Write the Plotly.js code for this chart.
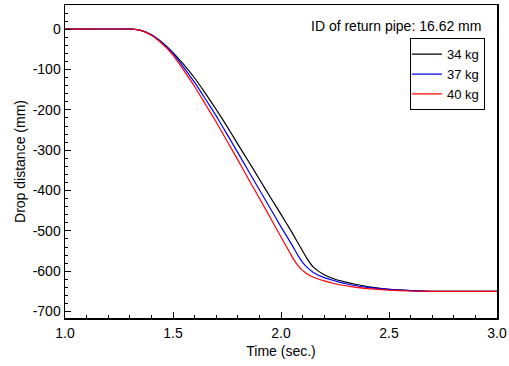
<!DOCTYPE html>
<html>
<head>
<meta charset="utf-8">
<script src="https://cdn.plot.ly/plotly-3.0.1.min.js"></script>
<style>html,body{margin:0;padding:0;background:#fff;}#chart{width:509px;height:366px;}</style>
</head>
<body>
<div id="chart"></div>
<script>
const seriesNames = ["34 kg", "37 kg", "40 kg"];
const seriesColors = ["#000000", "#0000ff", "#ff0000"];

const t34 = [1.00, 1.31, 1.35, 1.40, 1.45, 1.50, 1.55, 1.60, 1.65, 1.70, 1.75, 1.80, 1.85, 1.90, 1.95, 2.00, 2.05, 2.10, 2.12, 2.15, 2.20, 2.25, 2.30, 2.35, 2.40, 2.45, 2.50, 2.60, 2.70, 3.00];
const d34 = [0, 0, -3, -14, -33, -58, -88, -121, -159, -199, -241, -285, -328, -372, -416, -459, -503, -550, -568, -590, -609, -620, -627, -633, -638, -642, -645, -648, -650, -650];

const t37 = [1.00, 1.31, 1.35, 1.40, 1.45, 1.50, 1.55, 1.60, 1.65, 1.70, 1.75, 1.80, 1.85, 1.90, 1.95, 2.00, 2.05, 2.08, 2.10, 2.12, 2.15, 2.20, 2.25, 2.30, 2.35, 2.40, 2.50, 2.60, 2.70, 3.00];
const d37 = [0, 0, -3, -14, -34, -60, -95, -132, -173, -215, -260, -306, -352, -398, -444, -490, -534, -562, -578, -590, -603, -616, -624, -631, -636, -640, -645, -648, -650, -650];

const t40 = [1.00, 1.31, 1.35, 1.40, 1.45, 1.50, 1.55, 1.60, 1.65, 1.70, 1.75, 1.80, 1.85, 1.90, 1.95, 2.00, 2.04, 2.06, 2.08, 2.10, 2.12, 2.15, 2.20, 2.25, 2.30, 2.35, 2.40, 2.50, 2.60, 2.70, 3.00];
const d40 = [0, 0, -3, -15, -36, -64, -102, -142, -186, -230, -277, -324, -372, -419, -467, -515, -553, -572, -587, -598, -606, -615, -624, -631, -636, -640, -643, -647, -649, -650, -650];

const yTickVals = [0, -100, -200, -300, -400, -500, -600, -700];
const yTickText = ["0", "-100", "-200", "-300", "-400", "-500", "-600", "-700"];
const xTickVals = [1.0, 1.5, 2.0, 2.5, 3.0];
const xTickText = ["1.0", "1.5", "2.0", "2.5", "3.0"];

const xs = [t34, t37, t40];
const ys = [d34, d37, d40];

const traces = seriesNames.map((n, i) => ({
  x: xs[i], y: ys[i], name: n, type: 'scatter', mode: 'lines',
  line: {color: seriesColors[i], width: 1.2, shape: 'spline', smoothing: 0.5}
}));

const font = {family: '"Liberation Sans", Arial, sans-serif', size: 14, color: '#000'};
const legFont = {family: '"Liberation Sans", Arial, sans-serif', size: 13, color: '#000'};

const layout = {
  width: 509, height: 366,
  margin: {l: 65, r: 12, t: 5, b: 48},
  paper_bgcolor: '#fff', plot_bgcolor: '#fff',
  font: font,
  showlegend: true,
  legend: {
    x: 0.972, y: 0.894, xanchor: 'right', yanchor: 'top',
    bordercolor: '#000', borderwidth: 1, bgcolor: '#fff',
    font: legFont, tracegroupgap: 0, itemwidth: 30,
    indentation: -4
  },
  xaxis: {
    range: [1.0, 3.0], tickvals: xTickVals, ticktext: xTickText,
    ticks: 'inside', ticklen: 6, tickwidth: 1, tickcolor: '#000',
    minor: {dtick: 0.1, tick0: 1.0, ticks: 'inside', ticklen: 3, tickcolor: '#000'},
    showline: true, linecolor: '#000', linewidth: 1.5, mirror: true,
    showgrid: false, zeroline: false,
    ticklabelstandoff: 2,
    title: {text: 'Time (sec.)', font: font, standoff: 6},
    tickfont: font
  },
  yaxis: {
    range: [-716, 60], tickvals: yTickVals, ticktext: yTickText,
    ticks: 'inside', ticklen: 6, tickwidth: 1, tickcolor: '#000',
    minor: {dtick: 20, tick0: 0, ticks: 'inside', ticklen: 3, tickcolor: '#000'},
    showline: true, linecolor: '#000', linewidth: 1.5, mirror: true,
    showgrid: false, zeroline: false,
    title: {text: 'Drop distance (mm)', font: font, standoff: 4},
    tickfont: font
  },
  annotations: [{
    text: 'ID of return pipe: 16.62 mm', xref: 'paper', yref: 'paper',
    x: 0.9676, y: 0.933, xanchor: 'right', yanchor: 'middle', showarrow: false,
    font: font
  }]
};

Plotly.newPlot('chart', traces, layout, {displayModeBar: false, staticPlot: true});
</script>
</body>
</html>
